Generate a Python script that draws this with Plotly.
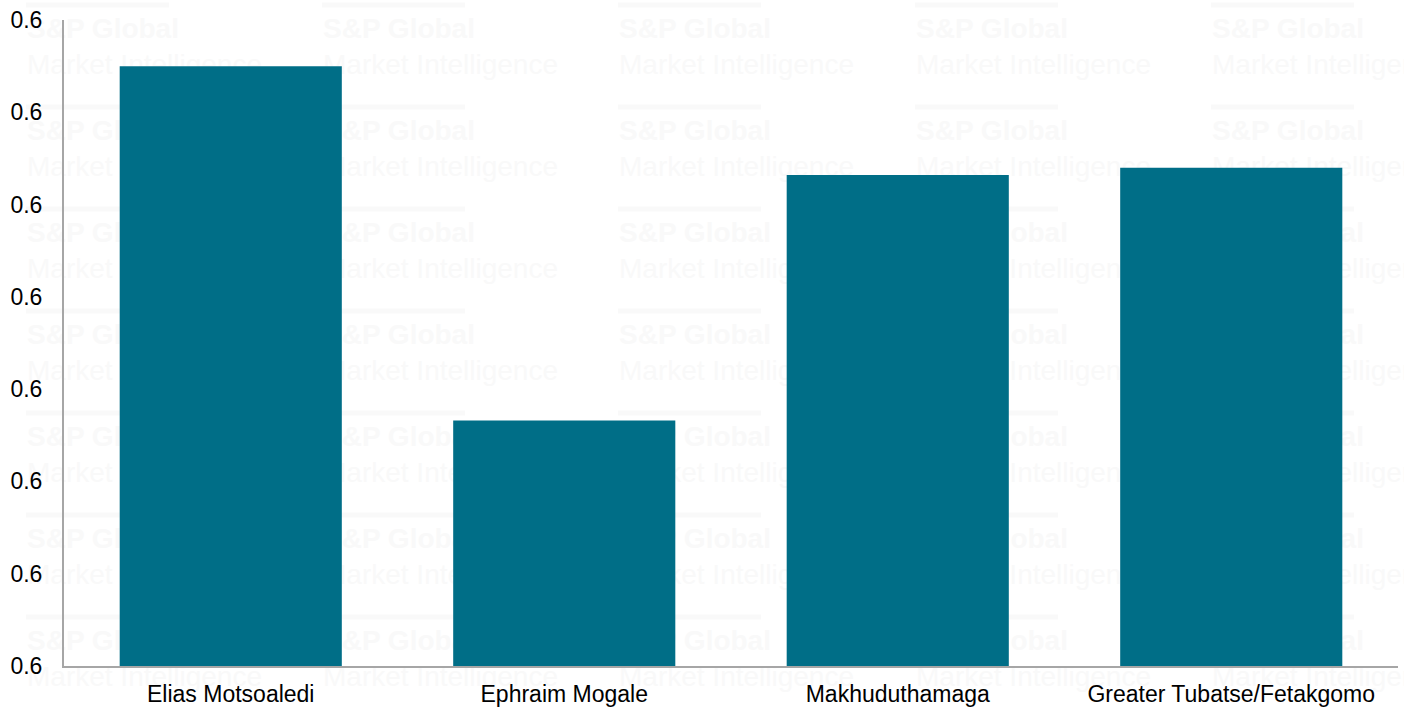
import plotly.graph_objects as go

categories = ["Elias Motsoaledi", "Ephraim Mogale", "Makhuduthamaga", "Greater Tubatse/Fetakgomo"]
values = [0.6225, 0.6033, 0.6166, 0.6170]
tick_vals = [0.59, 0.595, 0.60, 0.605, 0.61, 0.615, 0.62, 0.625]

BAR = "#006E87"
AXIS = "#A6A6A6"
WM = "#F9F9F9"

fig = go.Figure(go.Bar(x=categories, y=values, marker_color=BAR, marker_line_width=0))

W, H = 1404, 707
ml, mr, mt, mb = 64, 6, 20, 41
pw, ph = W - ml - mr, H - mt - mb

def px(x):
    return (x - ml) / pw

def py(y):
    return 1 - (y - mt) / ph

shapes = []
wm_cols = [24, 320, 616, 913, 1209]
wm_rows = [5, 107, 209, 311, 413, 515, 617]
for cx in wm_cols:
    for ry in wm_rows:
        shapes.append(dict(type="line", xref="paper", yref="paper", layer="below",
                           x0=px(cx + 2), x1=px(cx + 145), y0=py(ry), y1=py(ry),
                           line=dict(color=WM, width=5)))
        shapes.append(dict(type="rect", xref="paper", yref="paper", layer="below",
                           x0=px(cx), x1=px(cx + 280), y0=py(ry + 75), y1=py(ry + 5),
                           line=dict(width=0), fillcolor="rgba(0,0,0,0)",
                           label=dict(text="<b>S&P Global</b><br>Market Intelligence",
                                      textposition="top left", padding=0,
                                      font=dict(family="Liberation Sans, Arial", size=28, color=WM))))

fig.update_layout(
    width=W, height=H,
    margin=dict(l=ml, r=mr, t=mt, b=mb, autoexpand=False),
    paper_bgcolor="white", plot_bgcolor="rgba(0,0,0,0)",
    bargap=0.334,
    showlegend=False,
    shapes=shapes,
    font=dict(family="Liberation Sans, Arial", color="black"),
    xaxis=dict(showline=True, linecolor=AXIS, linewidth=2, showgrid=False, ticks="",
               tickfont=dict(size=23), ticklabelstandoff=6, automargin=False),
    yaxis=dict(range=[0.59, 0.625], tickvals=tick_vals, tickformat=".1f",
               showline=True, linecolor=AXIS, linewidth=2, showgrid=False, zeroline=False,
               ticks="", tickfont=dict(size=23), ticklabelstandoff=15, automargin=False),
)

fig.write_html("out.html", config={"displayModeBar": False},
               post_script="document.body.style.margin='0';")
